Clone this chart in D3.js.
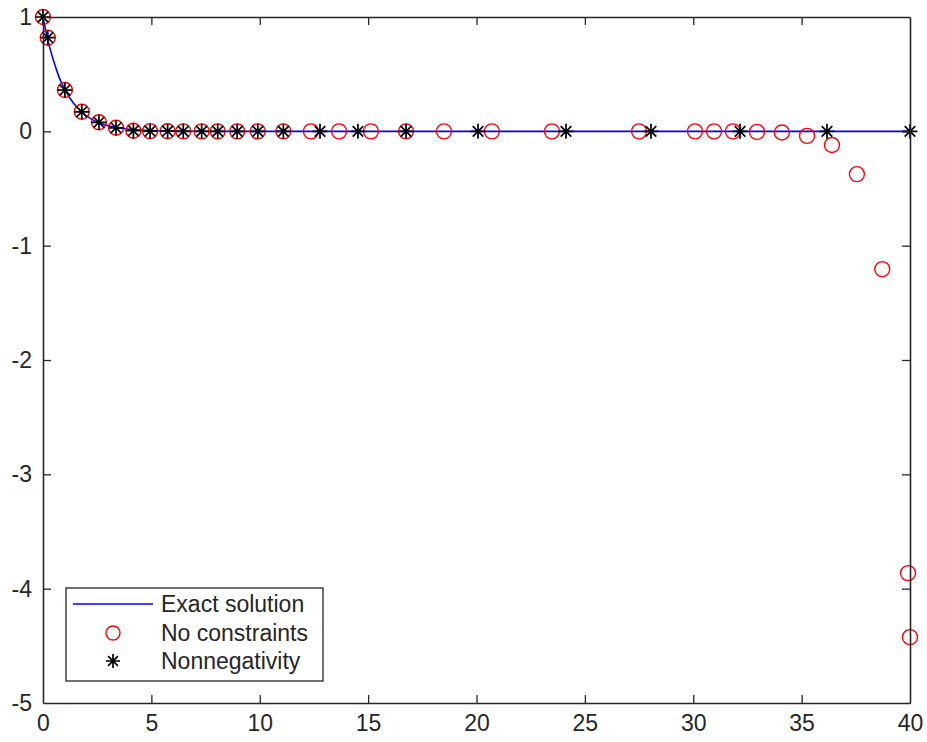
<!DOCTYPE html>
<html>
<head>
<meta charset="utf-8">
<script src="https://cdn.jsdelivr.net/npm/d3@7"></script>
<style>
  html, body { margin: 0; padding: 0; background: #fff; }
  svg { display: block; }
  text { font-family: "Liberation Sans", Arial, Helvetica, sans-serif; }
</style>
</head>
<body>
<div id="chart"></div>
<script>
// ---- data ----
const exactX = [0, 0.22, 0.5, 0.75, 1.01, 1.4, 1.79, 2.2, 2.58, 3.0, 3.37, 3.8, 4.17, 4.94, 5.75, 7, 9, 12, 40];
const exactY = [1.0, 0.80, 0.61, 0.47, 0.364, 0.247, 0.167, 0.111, 0.076, 0.050, 0.034, 0.022, 0.015, 0.007, 0.003, 0.001, 0.0, 0.0, 0.0];

const noConsX = [0, 0.22, 1.01, 1.79, 2.58, 3.37, 4.17, 4.94, 5.75, 6.47, 7.32, 8.06, 8.96, 9.91, 11.09,
                 12.36, 13.66, 15.13, 16.75, 18.5, 20.71, 23.48, 27.5, 30.08, 30.96, 31.83, 32.94, 34.09,
                 35.25, 36.4, 37.55, 38.72, 39.91, 40.0];
const noConsY = [1.0, 0.819, 0.361, 0.171, 0.079, 0.031, 0.005, 0.002, 0.001, 0.0, 0.0, 0.0, 0.0, 0.0, 0.0,
                 0.0, 0.0, 0.0, 0.0, 0.0, 0.0, 0.0, 0.0, 0.0, 0.0, 0.0, -0.005, -0.01,
                 -0.04, -0.12, -0.374, -1.205, -3.864, -4.424];

const nonNegX = [0, 0.22, 1.01, 1.79, 2.58, 3.37, 4.17, 4.94, 5.75, 6.47, 7.32, 8.06, 8.96, 9.91, 11.09,
                 12.78, 14.53, 16.75, 20.07, 24.13, 28.05, 32.16, 36.17, 40.0];
const nonNegY = [1.0, 0.819, 0.361, 0.171, 0.079, 0.031, 0.005, 0.002, 0.001, 0.0, 0.0, 0.0, 0.0, 0.0, 0.0,
                 0.0, 0.0, 0.0, 0.0, 0.0, 0.0, 0.0, 0.0, 0.0];

const xTicks = [0, 5, 10, 15, 20, 25, 30, 35, 40];
const yTicks = [-5, -4, -3, -2, -1, 0, 1];
const legendLabels = ["Exact solution", "No constraints", "Nonnegativity"];

// ---- layout ----
const W = 927, H = 742;
const m = { left: 43, right: 17, top: 17, bottom: 39 };
const axisColor = "#262626";
const fontSize = 23;

const svg = d3.select("#chart").append("svg").attr("width", W).attr("height", H);

const x = d3.scaleLinear().domain([0, 40]).range([m.left, W - m.right]);
const y = d3.scaleLinear().domain([-5, 1]).range([H - m.bottom, m.top]);

// data layer
const plot = svg.append("g");

const line = d3.line().x((d, i) => x(exactX[i])).y((d, i) => y(exactY[i])).curve(d3.curveMonotoneX);
plot.append("path")
  .attr("d", line(exactX))
  .attr("fill", "none")
  .attr("stroke", "#0000ff")
  .attr("stroke-width", 1.6);

plot.selectAll("circle.nc").data(noConsX).enter().append("circle")
  .attr("class", "nc")
  .attr("cx", (d) => x(d))
  .attr("cy", (d, i) => y(noConsY[i]))
  .attr("r", 7.5)
  .attr("fill", "none")
  .attr("stroke", "#ff0000")
  .attr("stroke-width", 1.4);

function starPath(s) {
  const a = s, b = s * Math.SQRT1_2;
  return `M${-a},0L${a},0M0,${-a}L0,${a}M${-b},${-b}L${b},${b}M${-b},${b}L${b},${-b}`;
}
plot.selectAll("path.nn").data(nonNegX).enter().append("path")
  .attr("class", "nn")
  .attr("transform", (d, i) => `translate(${x(d)},${y(nonNegY[i])})`)
  .attr("d", starPath(7.5))
  .attr("fill", "none")
  .attr("stroke", "#000")
  .attr("stroke-width", 1.7);

// axes (box with mirrored inward ticks)
const tickLen = 8;
const fmt = d => String(d);
const gBottom = svg.append("g").attr("transform", `translate(0,${H - m.bottom})`)
  .call(d3.axisBottom(x).tickValues(xTicks).tickSizeInner(-tickLen).tickSizeOuter(0).tickPadding(10).tickFormat(fmt));
const gTop = svg.append("g").attr("transform", `translate(0,${m.top})`)
  .call(d3.axisTop(x).tickValues(xTicks).tickSizeInner(-tickLen).tickSizeOuter(0).tickFormat(""));
const gLeft = svg.append("g").attr("transform", `translate(${m.left},0)`)
  .call(d3.axisLeft(y).tickValues(yTicks).tickSizeInner(-tickLen).tickSizeOuter(0).tickPadding(11).tickFormat(fmt));
const gRight = svg.append("g").attr("transform", `translate(${W - m.right},0)`)
  .call(d3.axisRight(y).tickValues(yTicks).tickSizeInner(-tickLen).tickSizeOuter(0).tickFormat(""));

[gBottom, gTop, gLeft, gRight].forEach(g => {
  g.select(".domain").attr("stroke", axisColor).attr("stroke-width", 1.6);
  g.selectAll(".tick line").attr("stroke", axisColor).attr("stroke-width", 1.3);
  g.selectAll(".tick text").attr("fill", axisColor).attr("font-size", fontSize)
    .attr("font-family", "'Liberation Sans', Arial, sans-serif");
});
gBottom.selectAll(".tick text").attr("dy", "0.78em");
gBottom.selectAll(".tick").filter(d => d === 0 || d === 40).select("line").remove();
gTop.selectAll(".tick").filter(d => d === 0 || d === 40).select("line").remove();
gLeft.selectAll(".tick").filter(d => d === -5 || d === 1).select("line").remove();
gRight.selectAll(".tick").filter(d => d === -5 || d === 1).select("line").remove();

// legend
const lg = svg.append("g").attr("transform", "translate(66,588)");
lg.append("rect").attr("width", 257).attr("height", 93)
  .attr("fill", "#fff").attr("stroke", axisColor).attr("stroke-width", 1.3);
const rowY = [16, 45, 73];
lg.append("line").attr("x1", 7).attr("x2", 87).attr("y1", rowY[0]).attr("y2", rowY[0])
  .attr("stroke", "#0000ff").attr("stroke-width", 1.6);
lg.append("circle").attr("cx", 47).attr("cy", rowY[1]).attr("r", 7)
  .attr("fill", "none").attr("stroke", "#ff0000").attr("stroke-width", 1.4);
lg.append("path").attr("transform", `translate(47,${rowY[2]})`).attr("d", starPath(7))
  .attr("fill", "none").attr("stroke", "#000").attr("stroke-width", 1.7);
lg.selectAll("text.lab").data(legendLabels).enter().append("text")
  .attr("class", "lab")
  .attr("x", 95)
  .attr("y", (d, i) => rowY[i])
  .attr("dy", "0.35em")
  .attr("font-size", fontSize)
  .attr("fill", axisColor)
  .text(d => d);
</script>
</body>
</html>
